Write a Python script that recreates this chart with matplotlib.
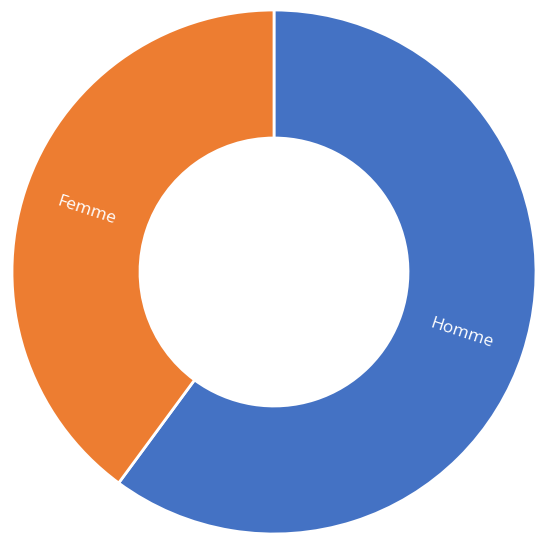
import matplotlib.pyplot as plt

labels = ["Homme", "Femme"]
values = [60.1, 39.9]
colors = ["#4472C4", "#ED7D31"]

fig = plt.figure(figsize=(5.36, 5.35), dpi=100)
ax = fig.add_axes([0, 0, 1, 1])

wedges, texts = ax.pie(values, labels=labels, colors=colors, startangle=90,
                       counterclock=False, center=(274, 263), radius=262,
                       labeldistance=0.755, rotatelabels=True,
                       wedgeprops=dict(width=128, edgecolor="white", linewidth=2),
                       frame=True)
ax.set_xlim(0, 536)
ax.set_ylim(0, 535)
ax.set_aspect("equal")
ax.axis("off")

for t in texts:
    rot = t.get_rotation()
    if 90 < rot < 270:
        rot -= 180
    t.set_rotation(rot)
    t.set_color("white")
    t.set_fontsize(12.5)
    t.set_family(["Open Sans", "DejaVu Sans"])
    t.set_ha("center")
    t.set_va("center")
    t.set_rotation_mode("anchor")

fig.savefig("out.png", dpi=100)
